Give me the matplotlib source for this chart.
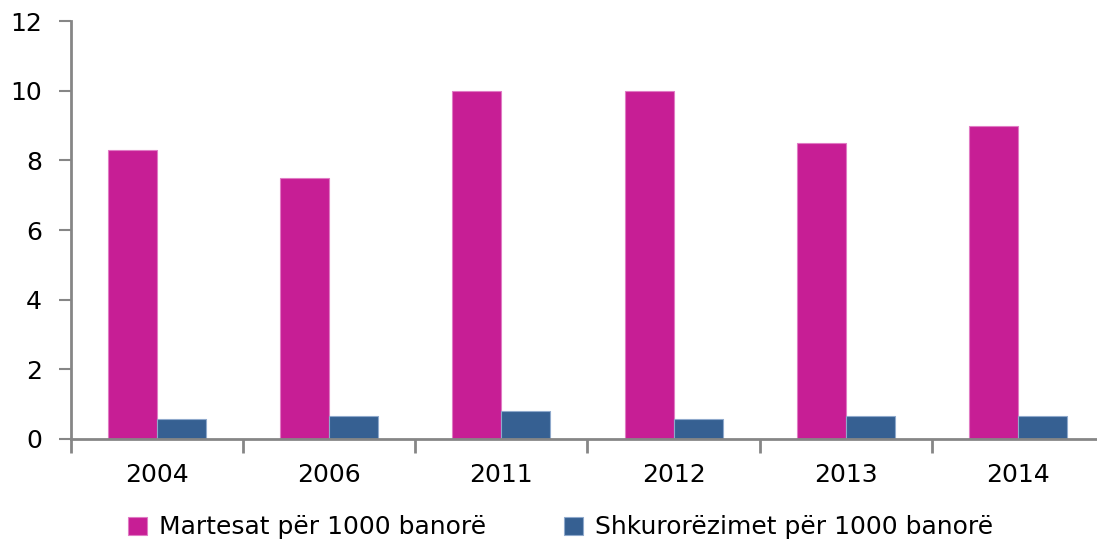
import numpy as np
import matplotlib.pyplot as plt

# Data
years = ['2004', '2006', '2011', '2012', '2013', '2014']
martesat = [8.3, 7.5, 10.0, 10.0, 8.5, 9.0]
shkurorezimet = [0.56, 0.67, 0.79, 0.56, 0.67, 0.67]
labels = ['Martesat për 1000 banorë', 'Shkurorëzimet për 1000 banorë']

plt.rcParams['font.family'] = ['DejaVu Sans']

fig = plt.figure(figsize=(10.97, 5.46), dpi=100)
ax = fig.add_axes([0.0647, 0.196, 0.9417, 0.7655])

x = np.arange(len(years))
w = 0.285
b1 = ax.bar(x - w / 2, martesat, w, color='#C71E95', edgecolor='#E07BC4', linewidth=0.8,
            label=labels[0])
b2 = ax.bar(x + w / 2, shkurorezimet, w, color='#366092', edgecolor='#8FA9CC', linewidth=0.8,
            label=labels[1])

ax.set_xlim(-0.5, len(years) - 0.5)
ax.set_ylim(0, 12)
ax.set_yticks(range(0, 13, 2))
ax.set_xticks(x)
ax.set_xticklabels(years)
ax.set_xticks(np.arange(-0.5, len(years), 1), minor=True)

for s in ['top', 'right']:
    ax.spines[s].set_visible(False)
for s in ['left', 'bottom']:
    ax.spines[s].set_color('#868686')
    ax.spines[s].set_linewidth(2)

ax.tick_params(axis='y', length=9, width=1.5, color='#868686', labelsize=18, pad=12)
ax.tick_params(axis='x', which='major', length=0, labelsize=18, pad=17)
ax.tick_params(axis='x', which='minor', length=10, width=2, color='#868686', direction='out')

fig.legend(handles=[b1, b2], labels=labels, loc='center', bbox_to_anchor=(0.511, 0.034),
           ncol=2, frameon=False, fontsize=18, handlelength=0.75, handleheight=0.75,
           handletextpad=0.5, columnspacing=3.1)

fig.savefig('out.png', dpi=100)
